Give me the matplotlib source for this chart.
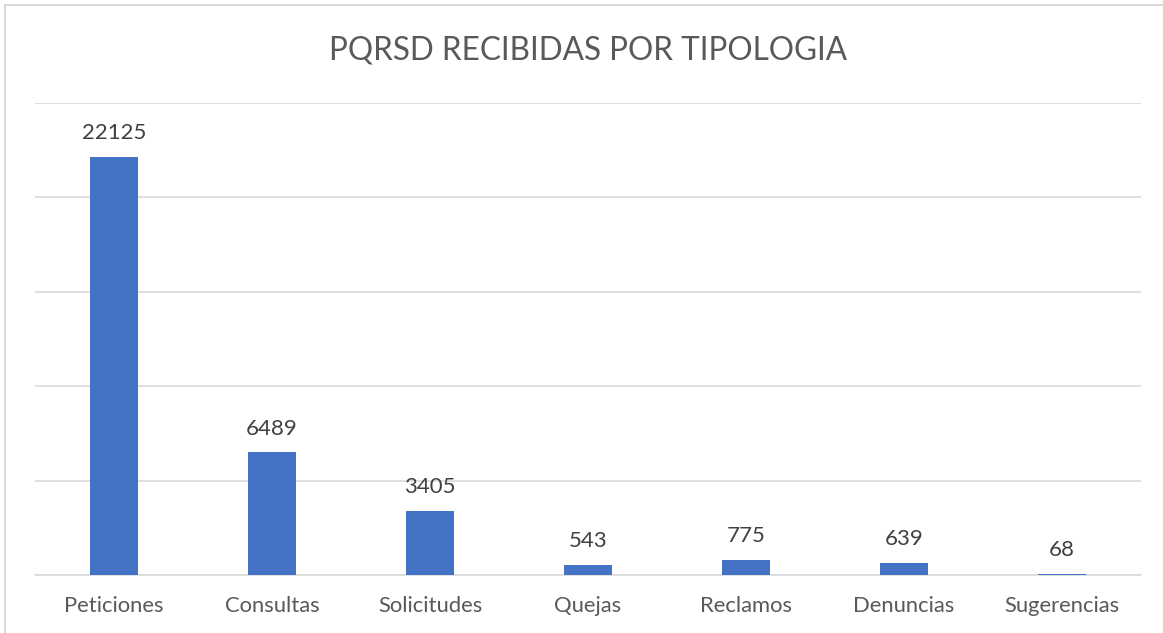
import matplotlib.pyplot as plt
from matplotlib.patches import Rectangle

categories = ['Peticiones', 'Consultas', 'Solicitudes', 'Quejas', 'Reclamos', 'Denuncias', 'Sugerencias']
values = [22125, 6489, 3405, 543, 775, 639, 68]

plt.rcParams['font.family'] = ['Lato', 'DejaVu Sans']

fig = plt.figure(figsize=(11.63, 6.33), dpi=100)
# outer chart border (right/bottom edges fall outside the crop)
fig.patches.append(Rectangle((4.5 / 1163, -0.05), 1.2, 1 - 4.5 / 633 + 0.05,
                             transform=fig.transFigure, fill=False,
                             edgecolor='#d9d9d9', linewidth=1.5))

ax = fig.add_axes([35 / 1163, 1 - 575 / 633, 1106 / 1163, 472 / 633])
x = range(len(categories))
bars = ax.bar(x, values, width=0.31, color='#4472C4', zorder=3)

ax.set_xlim(-0.5, len(categories) - 0.5)
ax.set_ylim(0, 25000)
ax.set_yticks(range(0, 25001, 5000))
ax.yaxis.grid(True, color='#d9d9d9', linewidth=1.2)
ax.set_yticklabels([])
ax.tick_params(axis='y', length=0)
ax.tick_params(axis='x', length=0, pad=15)
ax.set_xticks(list(x))
ax.set_xticklabels(categories, fontsize=15.8, color='#595959')
for s in ['top', 'right', 'left']:
    ax.spines[s].set_visible(False)
ax.spines['bottom'].set_color('#d9d9d9')
ax.spines['bottom'].set_linewidth(1.2)

for b, v in zip(bars, values):
    ax.annotate(str(v), (b.get_x() + b.get_width() / 2, v), xytext=(0, 10),
                textcoords='offset points', ha='center', va='bottom',
                fontsize=16, color='#404040')

fig.text(588 / 1163, 1 - 50 / 633, 'PQRSD RECIBIDAS POR TIPOLOGIA',
         ha='center', va='center', fontsize=22.7, color='#595959')

fig.savefig('out.png', dpi=100)
